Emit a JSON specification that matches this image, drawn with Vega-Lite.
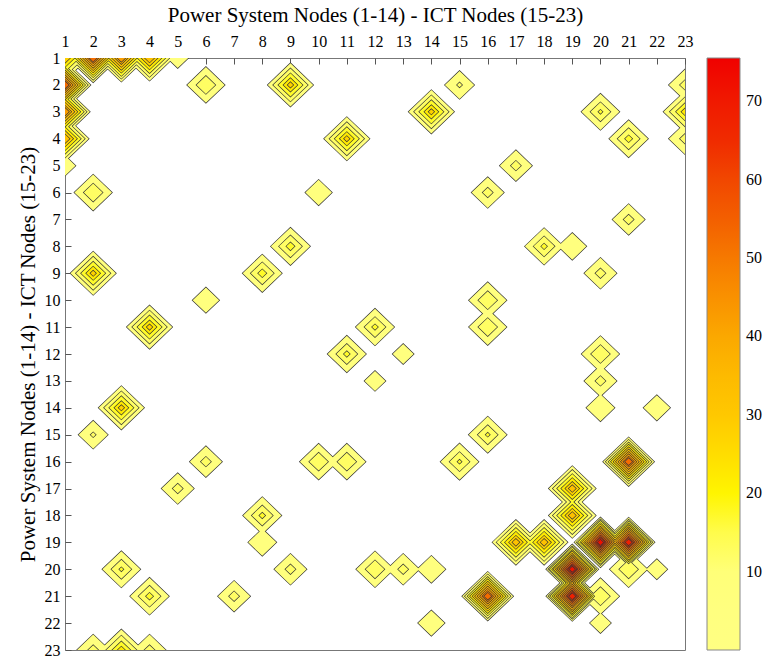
{
"$schema": "https://vega.github.io/schema/vega-lite/v6.json",
"width": 620, "height": 592,
"autosize": "none",
"padding": {"left": 65, "top": 58, "right": 80, "bottom": 7},
"background": "white",
"config": {"view": {"stroke": "#777", "strokeWidth": 1}},
"data": {"values": [
{"x":1,"y":1,"v":30},
{"x":1,"y":2,"v":55},{"x":2,"y":1,"v":55},
{"x":1,"y":3,"v":45},{"x":3,"y":1,"v":45},
{"x":1,"y":4,"v":35},{"x":4,"y":1,"v":35},
{"x":1,"y":5,"v":8},{"x":5,"y":1,"v":8},
{"x":2,"y":6,"v":15},{"x":6,"y":2,"v":15},
{"x":2,"y":9,"v":26.5},{"x":9,"y":2,"v":26.5},
{"x":2,"y":15,"v":10.5},{"x":15,"y":2,"v":10.5},
{"x":2,"y":23,"v":12},{"x":23,"y":2,"v":12},
{"x":3,"y":14,"v":26.5},{"x":14,"y":3,"v":26.5},
{"x":3,"y":20,"v":15.5},{"x":20,"y":3,"v":15.5},
{"x":3,"y":23,"v":22},{"x":23,"y":3,"v":22},
{"x":4,"y":11,"v":26.5},{"x":11,"y":4,"v":26.5},
{"x":4,"y":21,"v":16.5},{"x":21,"y":4,"v":16.5},
{"x":4,"y":23,"v":12},{"x":23,"y":4,"v":12},
{"x":5,"y":17,"v":12},{"x":17,"y":5,"v":12},
{"x":6,"y":10,"v":9.5},{"x":10,"y":6,"v":9.5},
{"x":6,"y":16,"v":12},{"x":16,"y":6,"v":12},
{"x":7,"y":21,"v":12},{"x":21,"y":7,"v":12},
{"x":8,"y":9,"v":17},{"x":9,"y":8,"v":17},
{"x":8,"y":18,"v":16},{"x":18,"y":8,"v":16},
{"x":8,"y":19,"v":10},{"x":19,"y":8,"v":10},
{"x":9,"y":20,"v":12},{"x":20,"y":9,"v":12},
{"x":10,"y":16,"v":15},{"x":16,"y":10,"v":15},
{"x":11,"y":16,"v":15},{"x":16,"y":11,"v":15},
{"x":11,"y":12,"v":16},{"x":12,"y":11,"v":16},
{"x":12,"y":13,"v":8},{"x":13,"y":12,"v":8},
{"x":12,"y":20,"v":15},{"x":20,"y":12,"v":15},
{"x":13,"y":20,"v":12},{"x":20,"y":13,"v":12},
{"x":14,"y":20,"v":10},{"x":20,"y":14,"v":10},
{"x":14,"y":22,"v":9.5},{"x":22,"y":14,"v":9.5},
{"x":15,"y":16,"v":15.5},{"x":16,"y":15,"v":15.5},
{"x":16,"y":21,"v":55},{"x":21,"y":16,"v":55},
{"x":17,"y":19,"v":33},{"x":19,"y":17,"v":33},
{"x":18,"y":19,"v":33},{"x":19,"y":18,"v":33},
{"x":19,"y":20,"v":74},{"x":20,"y":19,"v":74},
{"x":19,"y":21,"v":70},{"x":21,"y":19,"v":70},
{"x":20,"y":21,"v":15},{"x":21,"y":20,"v":15},
{"x":20,"y":22,"v":8},{"x":22,"y":20,"v":8}
]},
"encoding": {
  "x": {"field": "x", "type": "quantitative",
    "scale": {"domain": [1, 23], "nice": false, "zero": false},
    "axis": {"orient": "top", "values": [1,2,3,4,5,6,7,8,9,10,11,12,13,14,15,16,17,18,19,20,21,22,23],
      "title": "Power System Nodes (1-14) - ICT Nodes (15-23)", "titleFont": "Liberation Serif", "titleFontSize": 21, "titleFontWeight": "normal", "titleColor": "#000", "titlePadding": 8,
      "labelFont": "Liberation Serif", "labelFontSize": 16, "labelColor": "#000", "labelAngle": 0, "labelPadding": 15,
      "tickSize": -6, "tickColor": "#555", "domain": false, "grid": false, "labelFlush": false}},
  "y": {"field": "y", "type": "quantitative",
    "scale": {"domain": [1, 23], "nice": false, "zero": false, "reverse": true},
    "axis": {"orient": "left", "values": [1,2,3,4,5,6,7,8,9,10,11,12,13,14,15,16,17,18,19,20,21,22,23],
      "title": "Power System Nodes (1-14) - ICT Nodes (15-23)", "titleFont": "Liberation Serif", "titleFontSize": 21, "titleFontWeight": "normal", "titleColor": "#000", "titlePadding": 6,
      "labelFont": "Liberation Serif", "labelFontSize": 16, "labelColor": "#000", "labelPadding": 11,
      "tickSize": -6, "tickColor": "#555", "domain": false, "grid": false, "labelFlush": false}}
},
"layer": [
{"transform":[{"filter":{"field":"v","gt":5}}],"mark":{"type":"point","shape":"M-1,0L0,-0.955L1,0L0,0.955Z","filled":true,"opacity":1,"stroke":"#333","strokeWidth":1.3,"clip":true},"encoding":{"color":{"datum":7.5,"type":"quantitative","scale":{"domain":[0,9.4375,18.875,28.3125,37.75,47.1875,56.625,66.0625,75.5],"range":["#ffffff","#ffff7d","#fffa00","#ffcd00","#fcb200","#f78700","#f25500","#f02300","#f00000"]},"legend":{"title":null,"orient":"right","direction":"vertical","gradientLength":592,"gradientThickness":33,"values":[10,20,30,40,50,60,70],"labelFont":"Liberation Serif","labelFontSize":16,"labelColor":"#000","gradientStrokeColor":"#888","gradientStrokeWidth":1,"offset":22,"labelOffset":6}},"size":{"field":"v","type":"quantitative","scale":{"domain":[5,6.25,7.5,10,15,25,50,100],"range":[0,127,353,794,1412,2033,2573,2867],"clamp":true},"legend":null}}},
{"transform":[{"filter":{"field":"v","gt":5}}],"mark":{"type":"point","shape":"M-1,0L0,-0.955L1,0L0,0.955Z","filled":true,"opacity":1,"strokeWidth":0,"clip":true},"encoding":{"color":{"datum":7.5,"type":"quantitative"},"size":{"field":"v","type":"quantitative","scale":{"domain":[5,6.25,7.5,10,15,25,50,100],"range":[0,127,353,794,1412,2033,2573,2867],"clamp":true},"legend":null}}},
{"transform":[{"filter":{"field":"v","gt":10}}],"mark":{"type":"point","shape":"M-1,0L0,-0.955L1,0L0,0.955Z","filled":true,"opacity":1,"stroke":"#333","strokeWidth":1.3,"clip":true},"encoding":{"color":{"datum":12.5,"type":"quantitative"},"size":{"field":"v","type":"quantitative","scale":{"domain":[10,12.5,15,20,30,50,100,200],"range":[0,127,353,794,1412,2033,2573,2867],"clamp":true},"legend":null}}},
{"transform":[{"filter":{"field":"v","gt":10}}],"mark":{"type":"point","shape":"M-1,0L0,-0.955L1,0L0,0.955Z","filled":true,"opacity":1,"strokeWidth":0,"clip":true},"encoding":{"color":{"datum":12.5,"type":"quantitative"},"size":{"field":"v","type":"quantitative","scale":{"domain":[10,12.5,15,20,30,50,100,200],"range":[0,127,353,794,1412,2033,2573,2867],"clamp":true},"legend":null}}},
{"transform":[{"filter":{"field":"v","gt":15}}],"mark":{"type":"point","shape":"M-1,0L0,-0.955L1,0L0,0.955Z","filled":true,"opacity":1,"stroke":"#333","strokeWidth":1.3,"clip":true},"encoding":{"color":{"datum":17.5,"type":"quantitative"},"size":{"field":"v","type":"quantitative","scale":{"domain":[15,18.75,22.5,30,45,75,150,300],"range":[0,127,353,794,1412,2033,2573,2867],"clamp":true},"legend":null}}},
{"transform":[{"filter":{"field":"v","gt":15}}],"mark":{"type":"point","shape":"M-1,0L0,-0.955L1,0L0,0.955Z","filled":true,"opacity":1,"strokeWidth":0,"clip":true},"encoding":{"color":{"datum":17.5,"type":"quantitative"},"size":{"field":"v","type":"quantitative","scale":{"domain":[15,18.75,22.5,30,45,75,150,300],"range":[0,127,353,794,1412,2033,2573,2867],"clamp":true},"legend":null}}},
{"transform":[{"filter":{"field":"v","gt":20}}],"mark":{"type":"point","shape":"M-1,0L0,-0.955L1,0L0,0.955Z","filled":true,"opacity":1,"stroke":"#333","strokeWidth":1.3,"clip":true},"encoding":{"color":{"datum":22.5,"type":"quantitative"},"size":{"field":"v","type":"quantitative","scale":{"domain":[20,25,30,40,60,100,200,400],"range":[0,127,353,794,1412,2033,2573,2867],"clamp":true},"legend":null}}},
{"transform":[{"filter":{"field":"v","gt":20}}],"mark":{"type":"point","shape":"M-1,0L0,-0.955L1,0L0,0.955Z","filled":true,"opacity":1,"strokeWidth":0,"clip":true},"encoding":{"color":{"datum":22.5,"type":"quantitative"},"size":{"field":"v","type":"quantitative","scale":{"domain":[20,25,30,40,60,100,200,400],"range":[0,127,353,794,1412,2033,2573,2867],"clamp":true},"legend":null}}},
{"transform":[{"filter":{"field":"v","gt":25}}],"mark":{"type":"point","shape":"M-1,0L0,-0.955L1,0L0,0.955Z","filled":true,"opacity":1,"stroke":"#333","strokeWidth":1.3,"clip":true},"encoding":{"color":{"datum":27.5,"type":"quantitative"},"size":{"field":"v","type":"quantitative","scale":{"domain":[25,31.25,37.5,50,75,125,250,500],"range":[0,127,353,794,1412,2033,2573,2867],"clamp":true},"legend":null}}},
{"transform":[{"filter":{"field":"v","gt":25}}],"mark":{"type":"point","shape":"M-1,0L0,-0.955L1,0L0,0.955Z","filled":true,"opacity":1,"strokeWidth":0,"clip":true},"encoding":{"color":{"datum":27.5,"type":"quantitative"},"size":{"field":"v","type":"quantitative","scale":{"domain":[25,31.25,37.5,50,75,125,250,500],"range":[0,127,353,794,1412,2033,2573,2867],"clamp":true},"legend":null}}},
{"transform":[{"filter":{"field":"v","gt":30}}],"mark":{"type":"point","shape":"M-1,0L0,-0.955L1,0L0,0.955Z","filled":true,"opacity":1,"stroke":"#333","strokeWidth":1.3,"clip":true},"encoding":{"color":{"datum":32.5,"type":"quantitative"},"size":{"field":"v","type":"quantitative","scale":{"domain":[30,37.5,45,60,90,150,300,600],"range":[0,127,353,794,1412,2033,2573,2867],"clamp":true},"legend":null}}},
{"transform":[{"filter":{"field":"v","gt":30}}],"mark":{"type":"point","shape":"M-1,0L0,-0.955L1,0L0,0.955Z","filled":true,"opacity":1,"strokeWidth":0,"clip":true},"encoding":{"color":{"datum":32.5,"type":"quantitative"},"size":{"field":"v","type":"quantitative","scale":{"domain":[30,37.5,45,60,90,150,300,600],"range":[0,127,353,794,1412,2033,2573,2867],"clamp":true},"legend":null}}},
{"transform":[{"filter":{"field":"v","gt":35}}],"mark":{"type":"point","shape":"M-1,0L0,-0.955L1,0L0,0.955Z","filled":true,"opacity":1,"stroke":"#333","strokeWidth":1.3,"clip":true},"encoding":{"color":{"datum":37.5,"type":"quantitative"},"size":{"field":"v","type":"quantitative","scale":{"domain":[35,43.75,52.5,70,105,175,350,700],"range":[0,127,353,794,1412,2033,2573,2867],"clamp":true},"legend":null}}},
{"transform":[{"filter":{"field":"v","gt":35}}],"mark":{"type":"point","shape":"M-1,0L0,-0.955L1,0L0,0.955Z","filled":true,"opacity":1,"strokeWidth":0,"clip":true},"encoding":{"color":{"datum":37.5,"type":"quantitative"},"size":{"field":"v","type":"quantitative","scale":{"domain":[35,43.75,52.5,70,105,175,350,700],"range":[0,127,353,794,1412,2033,2573,2867],"clamp":true},"legend":null}}},
{"transform":[{"filter":{"field":"v","gt":40}}],"mark":{"type":"point","shape":"M-1,0L0,-0.955L1,0L0,0.955Z","filled":true,"opacity":1,"stroke":"#333","strokeWidth":1.3,"clip":true},"encoding":{"color":{"datum":42.5,"type":"quantitative"},"size":{"field":"v","type":"quantitative","scale":{"domain":[40,50,60,80,120,200,400,800],"range":[0,127,353,794,1412,2033,2573,2867],"clamp":true},"legend":null}}},
{"transform":[{"filter":{"field":"v","gt":40}}],"mark":{"type":"point","shape":"M-1,0L0,-0.955L1,0L0,0.955Z","filled":true,"opacity":1,"strokeWidth":0,"clip":true},"encoding":{"color":{"datum":42.5,"type":"quantitative"},"size":{"field":"v","type":"quantitative","scale":{"domain":[40,50,60,80,120,200,400,800],"range":[0,127,353,794,1412,2033,2573,2867],"clamp":true},"legend":null}}},
{"transform":[{"filter":{"field":"v","gt":45}}],"mark":{"type":"point","shape":"M-1,0L0,-0.955L1,0L0,0.955Z","filled":true,"opacity":1,"stroke":"#333","strokeWidth":1.3,"clip":true},"encoding":{"color":{"datum":47.5,"type":"quantitative"},"size":{"field":"v","type":"quantitative","scale":{"domain":[45,56.25,67.5,90,135,225,450,900],"range":[0,127,353,794,1412,2033,2573,2867],"clamp":true},"legend":null}}},
{"transform":[{"filter":{"field":"v","gt":45}}],"mark":{"type":"point","shape":"M-1,0L0,-0.955L1,0L0,0.955Z","filled":true,"opacity":1,"strokeWidth":0,"clip":true},"encoding":{"color":{"datum":47.5,"type":"quantitative"},"size":{"field":"v","type":"quantitative","scale":{"domain":[45,56.25,67.5,90,135,225,450,900],"range":[0,127,353,794,1412,2033,2573,2867],"clamp":true},"legend":null}}},
{"transform":[{"filter":{"field":"v","gt":50}}],"mark":{"type":"point","shape":"M-1,0L0,-0.955L1,0L0,0.955Z","filled":true,"opacity":1,"stroke":"#333","strokeWidth":1.3,"clip":true},"encoding":{"color":{"datum":52.5,"type":"quantitative"},"size":{"field":"v","type":"quantitative","scale":{"domain":[50,62.5,75,100,150,250,500,1000],"range":[0,127,353,794,1412,2033,2573,2867],"clamp":true},"legend":null}}},
{"transform":[{"filter":{"field":"v","gt":50}}],"mark":{"type":"point","shape":"M-1,0L0,-0.955L1,0L0,0.955Z","filled":true,"opacity":1,"strokeWidth":0,"clip":true},"encoding":{"color":{"datum":52.5,"type":"quantitative"},"size":{"field":"v","type":"quantitative","scale":{"domain":[50,62.5,75,100,150,250,500,1000],"range":[0,127,353,794,1412,2033,2573,2867],"clamp":true},"legend":null}}},
{"transform":[{"filter":{"field":"v","gt":55}}],"mark":{"type":"point","shape":"M-1,0L0,-0.955L1,0L0,0.955Z","filled":true,"opacity":1,"stroke":"#333","strokeWidth":1.3,"clip":true},"encoding":{"color":{"datum":57.5,"type":"quantitative"},"size":{"field":"v","type":"quantitative","scale":{"domain":[55,68.75,82.5,110,165,275,550,1100],"range":[0,127,353,794,1412,2033,2573,2867],"clamp":true},"legend":null}}},
{"transform":[{"filter":{"field":"v","gt":55}}],"mark":{"type":"point","shape":"M-1,0L0,-0.955L1,0L0,0.955Z","filled":true,"opacity":1,"strokeWidth":0,"clip":true},"encoding":{"color":{"datum":57.5,"type":"quantitative"},"size":{"field":"v","type":"quantitative","scale":{"domain":[55,68.75,82.5,110,165,275,550,1100],"range":[0,127,353,794,1412,2033,2573,2867],"clamp":true},"legend":null}}},
{"transform":[{"filter":{"field":"v","gt":60}}],"mark":{"type":"point","shape":"M-1,0L0,-0.955L1,0L0,0.955Z","filled":true,"opacity":1,"stroke":"#333","strokeWidth":1.3,"clip":true},"encoding":{"color":{"datum":62.5,"type":"quantitative"},"size":{"field":"v","type":"quantitative","scale":{"domain":[60,75,90,120,180,300,600,1200],"range":[0,127,353,794,1412,2033,2573,2867],"clamp":true},"legend":null}}},
{"transform":[{"filter":{"field":"v","gt":60}}],"mark":{"type":"point","shape":"M-1,0L0,-0.955L1,0L0,0.955Z","filled":true,"opacity":1,"strokeWidth":0,"clip":true},"encoding":{"color":{"datum":62.5,"type":"quantitative"},"size":{"field":"v","type":"quantitative","scale":{"domain":[60,75,90,120,180,300,600,1200],"range":[0,127,353,794,1412,2033,2573,2867],"clamp":true},"legend":null}}},
{"transform":[{"filter":{"field":"v","gt":65}}],"mark":{"type":"point","shape":"M-1,0L0,-0.955L1,0L0,0.955Z","filled":true,"opacity":1,"stroke":"#333","strokeWidth":1.3,"clip":true},"encoding":{"color":{"datum":67.5,"type":"quantitative"},"size":{"field":"v","type":"quantitative","scale":{"domain":[65,81.25,97.5,130,195,325,650,1300],"range":[0,127,353,794,1412,2033,2573,2867],"clamp":true},"legend":null}}},
{"transform":[{"filter":{"field":"v","gt":65}}],"mark":{"type":"point","shape":"M-1,0L0,-0.955L1,0L0,0.955Z","filled":true,"opacity":1,"strokeWidth":0,"clip":true},"encoding":{"color":{"datum":67.5,"type":"quantitative"},"size":{"field":"v","type":"quantitative","scale":{"domain":[65,81.25,97.5,130,195,325,650,1300],"range":[0,127,353,794,1412,2033,2573,2867],"clamp":true},"legend":null}}},
{"transform":[{"filter":{"field":"v","gt":70}}],"mark":{"type":"point","shape":"M-1,0L0,-0.955L1,0L0,0.955Z","filled":true,"opacity":1,"stroke":"#333","strokeWidth":1.3,"clip":true},"encoding":{"color":{"datum":72.5,"type":"quantitative"},"size":{"field":"v","type":"quantitative","scale":{"domain":[70,87.5,105,140,210,350,700,1400],"range":[0,127,353,794,1412,2033,2573,2867],"clamp":true},"legend":null}}},
{"transform":[{"filter":{"field":"v","gt":70}}],"mark":{"type":"point","shape":"M-1,0L0,-0.955L1,0L0,0.955Z","filled":true,"opacity":1,"strokeWidth":0,"clip":true},"encoding":{"color":{"datum":72.5,"type":"quantitative"},"size":{"field":"v","type":"quantitative","scale":{"domain":[70,87.5,105,140,210,350,700,1400],"range":[0,127,353,794,1412,2033,2573,2867],"clamp":true},"legend":null}}},
{"data":{"values":[{"divider":"ICT"}]},"mark":{"type":"rule","color":"#444","strokeWidth":1},"encoding":{"x":{"datum":14.5},"y":{"datum":1},"y2":{"datum":23}}},
{"data":{"values":[{"divider":"ICT"}]},"mark":{"type":"rule","color":"#444","strokeWidth":1},"encoding":{"y":{"datum":14.5},"x":{"datum":1},"x2":{"datum":23}}}
],
"resolve": {"scale": {"size": "independent"}}
}
